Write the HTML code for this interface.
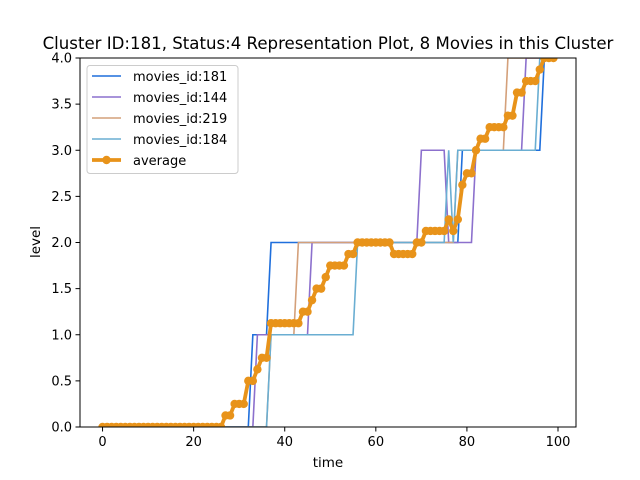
<!DOCTYPE html>
<html><head><meta charset="utf-8"><style>
body{margin:0;background:#fff;}
svg{display:block;font-family:"DejaVu Sans","Liberation Sans",sans-serif;}
</style></head><body>
<svg id="chart" width="640" height="480">
<defs><clipPath id="clip"><rect x="80" y="58" width="496" height="369"/></clipPath></defs>
<text x="328" y="49" font-size="16.6" text-anchor="middle">Cluster ID:181, Status:4 Representation Plot, 8 Movies in this Cluster</text>
<g id="plot" clip-path="url(#clip)"></g>
<rect x="80" y="58" width="496" height="369" fill="none" stroke="#000" stroke-width="1"/>
<g id="axes"></g>
<text x="328" y="467" font-size="13.5" text-anchor="middle">time</text>
<text transform="translate(40,242) rotate(-90)" font-size="13.5" text-anchor="middle">level</text>
<g id="legend"></g>
</svg>
<script>
const s181=[0,0,0,0,0,0,0,0,0,0,0,0,0,0,0,0,0,0,0,0,0,0,0,0,0,0,0,0,0,0,0,0,0,1,1,1,1,2,2,2,2,2,2,2,2,2,2,2,2,2,2,2,2,2,2,2,2,2,2,2,2,2,2,2,2,2,2,2,2,2,2,2,2,2,2,2,2,2,2,3,3,3,3,3,3,3,3,3,3,3,3,3,3,3,3,3,3,4,4,4];
const s144=[0,0,0,0,0,0,0,0,0,0,0,0,0,0,0,0,0,0,0,0,0,0,0,0,0,0,0,0,0,0,0,0,0,0,1,1,1,1,1,1,1,1,1,1,1,1,2,2,2,2,2,2,2,2,2,2,2,2,2,2,2,2,2,2,2,2,2,2,2,2,3,3,3,3,3,3,2,2,2,2,2,2,3,3,3,3,3,3,3,3,3,3,3,4,4,4,4,4,4,4];
const s219=[0,0,0,0,0,0,0,0,0,0,0,0,0,0,0,0,0,0,0,0,0,0,0,0,0,0,0,0,0,0,0,0,0,0,0,0,0,1,1,1,1,1,1,2,2,2,2,2,2,2,2,2,2,2,2,2,2,2,2,2,2,2,2,2,2,2,2,2,2,2,2,2,2,2,2,2,2,2,3,3,3,3,3,3,3,3,3,3,3,4,4,4,4,4,4,4,4,4,4,4];
const s184=[0,0,0,0,0,0,0,0,0,0,0,0,0,0,0,0,0,0,0,0,0,0,0,0,0,0,0,0,0,0,0,0,0,0,0,0,0,1,1,1,1,1,1,1,1,1,1,1,1,1,1,1,1,1,1,1,2,2,2,2,2,2,2,2,2,2,2,2,2,2,2,2,2,2,2,2,3,2,3,3,3,3,3,3,3,3,3,3,3,3,3,3,3,3,3,3,4,4,4,4];
const avg=[0,0,0,0,0,0,0,0,0,0,0,0,0,0,0,0,0,0,0,0,0,0,0,0,0,0,0,0.125,0.125,0.25,0.25,0.25,0.5,0.5,0.625,0.75,0.75,1.125,1.125,1.125,1.125,1.125,1.125,1.125,1.25,1.25,1.375,1.5,1.5,1.625,1.75,1.75,1.75,1.75,1.875,1.875,2,2,2,2,2,2,2,2,1.875,1.875,1.875,1.875,1.875,2,2,2.125,2.125,2.125,2.125,2.125,2.25,2.125,2.25,2.625,2.75,2.75,3,3.125,3.125,3.25,3.25,3.25,3.25,3.375,3.375,3.625,3.625,3.75,3.75,3.75,3.875,4,4,4];
const xTicks=[0,20,40,60,80,100];
const yTicks=[0,0.5,1,1.5,2,2.5,3,3.5,4];
const yTickLabels=["0.0","0.5","1.0","1.5","2.0","2.5","3.0","3.5","4.0"];
const legendLabels=["movies_id:181","movies_id:144","movies_id:219","movies_id:184","average"];

const NS="http://www.w3.org/2000/svg";
const X0=80,X1=576,Y0=427,Y1=58,xmin=-4.95,xmax=103.95,ymin=0,ymax=4;
const xs=v=>X0+(v-xmin)/(xmax-xmin)*(X1-X0);
const ys=v=>Y0-(v-ymin)/(ymax-ymin)*(Y0-Y1);
function mk(tag,attrs,parent){const e=document.createElementNS(NS,tag);for(const k in attrs)e.setAttribute(k,attrs[k]);parent.appendChild(e);return e;}
const plot=document.getElementById('plot'),axes=document.getElementById('axes'),leg=document.getElementById('legend');
const series=[[s181,'#1f6fdc','line-movie-181'],[s144,'#8c70cd','line-movie-144'],[s219,'#d4a07a','line-movie-219'],[s184,'#6aaed2','line-movie-184']];
series.forEach(([d,c,n])=>{
  const p=mk('polyline',{points:d.map((v,i)=>xs(i)+','+ys(v)).join(' '),fill:'none',stroke:c,'stroke-width':1.6},plot);
  
  
});
const ap=mk('polyline',{points:avg.map((v,i)=>xs(i)+','+ys(v)).join(' '),fill:'none',stroke:'#e8931a','stroke-width':3.8,'stroke-linejoin':'round'},plot);


avg.forEach((v,i)=>{
  const c=mk('circle',{cx:xs(i),cy:ys(v),r:4.2,fill:'#e8931a'},plot);
  
  
});
xTicks.forEach(t=>{
  const l=mk('line',{x1:xs(t),x2:xs(t),y1:Y0,y2:Y0+4.5,stroke:'#000','stroke-width':1},axes);
  
  
  const tx=mk('text',{x:xs(t),y:Y0+19,'font-size':13,'text-anchor':'middle'},axes);
  tx.textContent=t;
  
  
});
yTicks.forEach((t,i)=>{
  const l=mk('line',{x1:X0-4.5,x2:X0,y1:ys(t),y2:ys(t),stroke:'#000','stroke-width':1},axes);
  
  
  const tx=mk('text',{x:X0-8,y:ys(t)+4.5,'font-size':13,'text-anchor':'end'},axes);
  tx.textContent=yTickLabels[i];
  
  
});
const box=mk('rect',{x:87,y:65.5,width:151,height:108,rx:3,fill:'#fff','fill-opacity':0.8,stroke:'#ccc','stroke-width':1},leg);


const lc=['#1f6fdc','#8c70cd','#d4a07a','#6aaed2','#e8931a'];
legendLabels.forEach((lab,i)=>{
  const y=76+i*21;
  const g=mk('g',{},leg);
  
  
  mk('line',{x1:92,x2:121,y1:y,y2:y,stroke:lc[i],'stroke-width':i==4?3.8:1.6},g);
  if(i==4)mk('circle',{cx:106.5,cy:y,r:4.2,fill:lc[i]},g);
  const t=mk('text',{x:133,y:y+5,'font-size':13},g);
  t.textContent=lab;
});
</script>
</body></html>
